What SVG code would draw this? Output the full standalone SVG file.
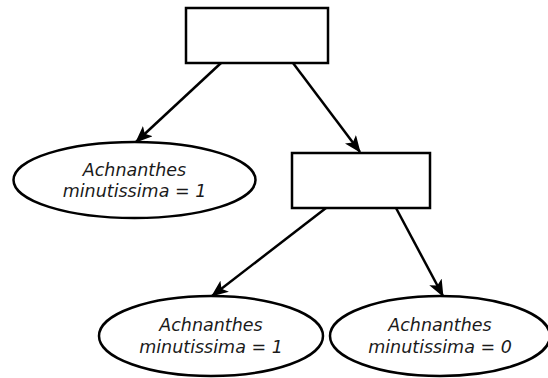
<svg xmlns="http://www.w3.org/2000/svg" width="548" height="378" viewBox="0 0 548 378">
  <style>
    .box { fill: #ffffff; stroke: #000000; stroke-width: 2.5; }
    .leaf { fill: #ffffff; stroke: #000000; stroke-width: 2.5; }
    .edge { fill: none; stroke: #000000; stroke-width: 2.5; }
    .lbl { font-family: "DejaVu Sans", sans-serif; font-style: italic; font-size: 17.5px; fill: #1a1a1a; text-anchor: middle; }
  </style>
  <defs>
    <marker id="arrow" viewBox="0 0 17 14" refX="16" refY="7" markerWidth="17" markerHeight="14" markerUnits="userSpaceOnUse" orient="auto">
      <path d="M0,0 L17,7 L0,14 L4,7 Z" fill="#000000"/>
    </marker>
  </defs>
  <rect width="548" height="378" fill="#ffffff"/>

  <g id="connectors">
    <line class="edge" x1="221" y1="63" x2="136" y2="142" marker-end="url(#arrow)"/>
    <line class="edge" x1="293" y1="63" x2="360" y2="152" marker-end="url(#arrow)"/>
    <line class="edge" x1="326" y1="208" x2="212" y2="296" marker-end="url(#arrow)"/>
    <line class="edge" x1="396" y1="208" x2="443" y2="296" marker-end="url(#arrow)"/>
  </g>

  <g id="root">
    <rect class="box" x="186" y="8" width="142" height="55"/>
  </g>

  <g id="leaf-left">
    <ellipse class="leaf" cx="134.5" cy="180" rx="121" ry="38"/>
    <text class="lbl" x="134.5" y="176">Achnanthes</text>
    <text class="lbl" x="134.5" y="197">minutissima = 1</text>
  </g>

  <g id="split">
    <rect class="box" x="292" y="153" width="138" height="55"/>
  </g>

  <g id="leaf-bottom-left">
    <ellipse class="leaf" cx="211" cy="336" rx="112" ry="40"/>
    <text class="lbl" x="211" y="331">Achnanthes</text>
    <text class="lbl" x="211" y="353">minutissima = 1</text>
  </g>

  <g id="leaf-bottom-right">
    <ellipse class="leaf" cx="440" cy="336" rx="110" ry="40"/>
    <text class="lbl" x="440" y="331">Achnanthes</text>
    <text class="lbl" x="440" y="353">minutissima = 0</text>
  </g>
</svg>
